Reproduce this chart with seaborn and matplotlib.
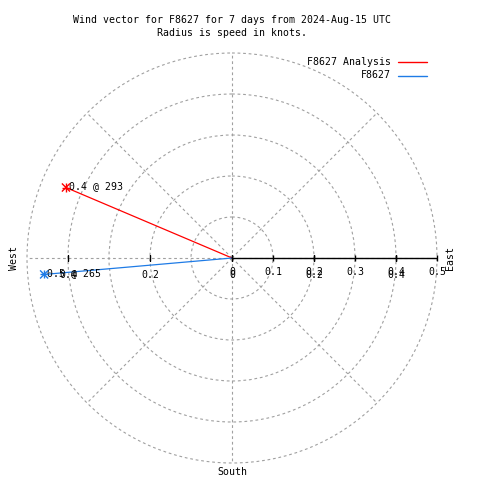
import numpy as np
import pandas as pd
import matplotlib
matplotlib.use('Agg')
import matplotlib.pyplot as plt
from matplotlib.lines import Line2D
import seaborn as sns

# wind vectors (speed in knots, direction in compass degrees)
series_names = ['F8627 Analysis', 'F8627']
speeds = [0.44, 0.46]
directions = [293, 265]
line_colors = ['#ff0000', '#1e7be6']

rtick_values = [0, 0.1, 0.2, 0.3, 0.4, 0.5]
xtick_values = [-0.4, -0.2, 0, 0.2, 0.4]
title_lines = ['Wind vector for F8627 for 7 days from 2024-Aug-15 UTC',
               'Radius is speed in knots.']

sns.set_theme(style='white')
plt.rcParams['font.family'] = ['DejaVu Sans Mono']
plt.rcParams['text.color'] = 'black'
fs = 7.1

rows = []
for name, spd, d in zip(series_names, speeds, directions):
    rows.append({'series': name, 'theta': np.radians(d), 'r': 0.0})
    rows.append({'series': name, 'theta': np.radians(d), 'r': spd})
vec = pd.DataFrame(rows)
ends = vec[vec['r'] > 0]
pal = dict(zip(series_names, line_colors))

fig = plt.figure(figsize=(4.8, 4.8), dpi=100)
ax = fig.add_axes([27/480, 17/480, 410/480, 410/480], projection='polar')
ax.set_theta_zero_location('N')
ax.set_theta_direction(-1)

sns.lineplot(data=vec, x='theta', y='r', hue='series', palette=pal,
             estimator=None, sort=False, legend=False, lw=0.9, ax=ax)
for m in ['+', 'x']:
    sns.scatterplot(data=ends, x='theta', y='r', hue='series', palette=pal,
                    marker=m, s=34, linewidth=1, legend=False, ax=ax, zorder=5)
ax.set_xlabel('')
ax.set_ylabel('')

grid_kw = dict(color='#a0a0a0', linestyle=(0, (2.5, 2.5)), linewidth=0.8)
ax.set_rlim(0, 0.5)
ax.set_yticks([0.1, 0.2, 0.3, 0.4, 0.5])
ax.set_yticklabels([])
ax.set_xticks(np.radians(np.arange(0, 360, 45)))
ax.set_xticklabels([])
ax.xaxis.grid(True, **grid_kw)
ax.yaxis.grid(True, **grid_kw)
for gl in ax.yaxis.get_gridlines():
    gl.set_clip_on(False)
ax.tick_params(length=0)
ax.spines['polar'].set_visible(False)

east = np.radians(90)
west = np.radians(270)

# solid radial axis toward east with ticks
ax.plot([east, east], [0, 0.5], color='black', lw=1, zorder=4)
ax.plot([east] * len(rtick_values), rtick_values, ls='none', marker='|',
        ms=4.5, mew=1, color='black', zorder=4, clip_on=False)
ax.plot([east if v >= 0 else west for v in xtick_values],
        [abs(v) for v in xtick_values], ls='none', marker='|',
        ms=4.5, mew=1, color='black', zorder=4)

for v in rtick_values:
    ax.annotate(f'{v:g}', (east, v), xytext=(0, -14), textcoords='offset pixels',
                ha='center', va='center', fontsize=fs)
for v in xtick_values:
    ax.annotate(f'{abs(v):g}', (east if v >= 0 else west, abs(v)), xytext=(0, -17),
                textcoords='offset pixels', ha='center', va='center', fontsize=fs)

# vector labels
for name, spd, d in zip(series_names, speeds, directions):
    ax.annotate(f'{spd:.1f} @ {d}', (np.radians(d), spd), xytext=(3, 1),
                textcoords='offset pixels', ha='left', va='center', fontsize=fs)

# compass labels
ax.annotate('West', (west, 0.5), xytext=(-13, 0), textcoords='offset pixels',
            ha='center', va='center', rotation=90, fontsize=fs)
ax.annotate('East', (east, 0.5), xytext=(13, 0), textcoords='offset pixels',
            ha='center', va='center', rotation=90, fontsize=fs)
ax.annotate('South', (np.pi, 0.5), xytext=(0, -9), textcoords='offset pixels',
            ha='center', va='center', fontsize=fs)

# title
for i, t in enumerate(title_lines):
    fig.text(232/480, 1 - (20 + 13*i)/480, t, ha='center', va='center', fontsize=fs)

# legend (text right of line, right aligned like gnuplot)
for i, (name, c) in enumerate(zip(series_names, line_colors)):
    y = 1 - (62 + 13.5*i)/480
    fig.text(391/480, y, name, ha='right', va='center', fontsize=fs)
    fig.add_artist(Line2D([398/480, 427/480], [y, y], color=c, lw=1))

fig.savefig('out.png', dpi=100)
